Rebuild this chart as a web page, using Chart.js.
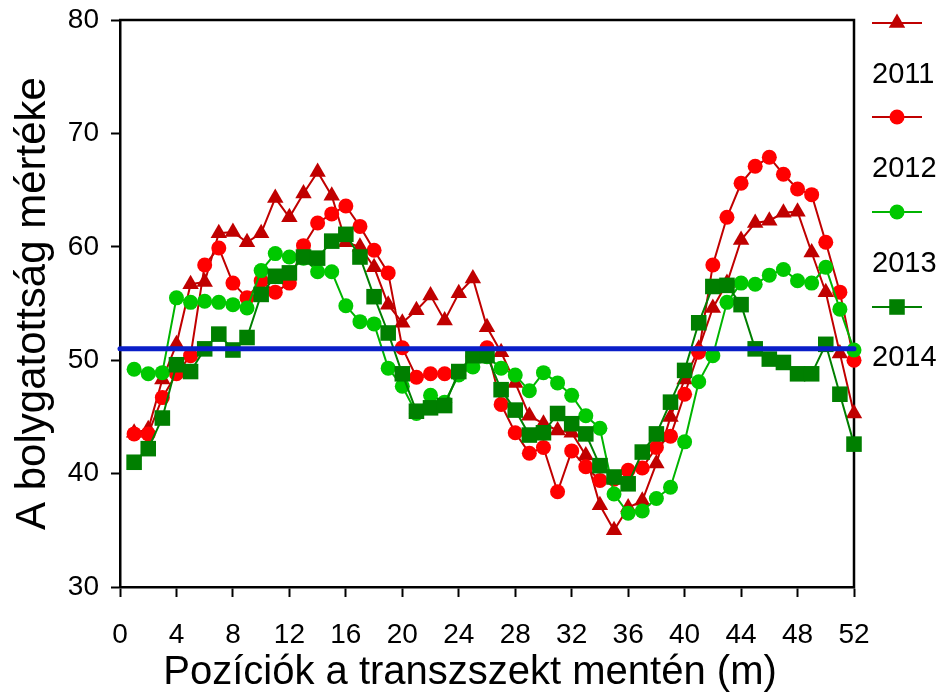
<!DOCTYPE html>
<html><head><meta charset="utf-8">
<script src="https://cdn.jsdelivr.net/npm/chart.js@4.4.1/dist/chart.umd.min.js"></script>
<style>html,body{margin:0;padding:0;background:#fff;} #wrap{width:941px;height:699px;}</style>
</head><body><div id="wrap"><canvas id="c" width="941" height="699"></canvas></div>
<script>
// ---- data ----
const positions = [1,2,3,4,5,6,7,8,9,10,11,12,13,14,15,16,17,18,19,20,21,22,23,24,25,26,
                   27,28,29,30,31,32,33,34,35,36,37,38,39,40,41,42,43,44,45,46,47,48,49,50,51,52];
const years = ['2011','2012','2013','2014'];
const y2011 = [43.6,43.9,48.3,51.4,56.7,56.9,61.2,61.3,60.4,61.2,64.3,62.6,64.7,66.6,64.5,60.4,60.0,58.2,54.9,53.3,
               54.4,55.7,53.5,55.9,57.2,52.9,50.7,48.0,45.1,44.4,43.8,43.6,41.6,37.2,35.0,37.0,37.6,40.9,45.0,48.3,
               51.0,54.6,56.8,60.6,62.1,62.3,63.0,63.1,59.5,56.0,50.6,45.3];
const y2012 = [43.5,43.5,46.7,48.8,50.4,58.4,59.9,56.8,55.5,57.0,56.0,56.8,60.1,62.1,62.9,63.6,61.8,59.7,57.7,51.1,
               48.5,48.8,48.8,49.0,50.3,51.1,46.1,43.6,41.8,42.3,38.4,42.0,40.6,39.4,39.5,40.3,40.5,42.3,43.3,47.0,
               50.7,58.4,62.6,65.6,67.1,67.9,66.4,65.1,64.6,60.4,56.0,50.0];
const y2013 = [49.2,48.8,48.9,55.5,55.1,55.2,55.1,54.9,54.6,57.9,59.4,59.1,59.0,57.8,57.8,54.8,53.4,53.2,49.3,47.7,
               45.3,46.9,46.3,48.7,49.4,50.3,49.3,48.7,47.3,48.9,48.0,46.9,45.1,44.0,38.2,36.5,36.7,37.8,38.8,42.8,
               48.1,50.4,55.1,56.8,56.7,57.5,58.0,57.0,56.8,58.2,54.5,50.9];
const y2014 = [41.0,42.2,44.9,49.6,49.0,51.0,52.3,50.9,52.0,55.8,57.4,57.7,59.1,59.0,60.5,61.1,59.1,55.6,52.4,48.8,
               45.5,45.8,46.0,49.0,50.4,50.4,47.4,45.6,43.4,43.6,45.3,44.4,43.5,40.7,39.7,39.1,41.9,43.5,46.3,49.1,
               53.3,56.5,56.6,54.9,51.0,50.1,49.8,48.8,48.8,51.4,47.0,42.6];
const referenceLevel = 51;
const referenceSpan = [0, 52];
const xTicks = [0,4,8,12,16,20,24,28,32,36,40,44,48,52];
const yTicks = [30,40,50,60,70,80];
const xTitle = 'Pozíciók a transzszekt mentén (m)';
const yTitle = 'A bolygatottság mértéke';

// ---- styles ----
const FONT = "'Liberation Sans', Arial, sans-serif";
const seriesValues = [y2011, y2012, y2013, y2014];
const styles = [
  {line:'#c00000', fill:'#c00000', pt:'triangle', r:9.5},
  {line:'#c00000', fill:'#ff0000', pt:'circle', r:7.5},
  {line:'#00b400', fill:'#00c800', pt:'circle', r:7.5},
  {line:'#007f00', fill:'#007f00', pt:'rect', r:11}
];
const toPts = arr => positions.map((p, i) => ({x: p, y: arr[i]}));

const datasets = seriesValues.map((vals, i) => ({
  label: years[i],
  data: toPts(vals),
  borderColor: styles[i].line,
  backgroundColor: styles[i].fill,
  pointBackgroundColor: styles[i].fill,
  pointBorderColor: styles[i].fill,
  pointBorderWidth: 0,
  pointStyle: styles[i].pt,
  pointRadius: styles[i].r,
  pointHoverRadius: styles[i].r,
  borderWidth: 2,
  tension: 0,
  clip: false,
  order: 4 - i
}));
datasets.push({
  label: 'ref',
  data: referenceSpan.map(x => ({x: x, y: referenceLevel})),
  borderColor: '#0a1ec8',
  borderWidth: 5,
  borderCapStyle: 'round',
  pointRadius: 0,
  clip: false,
  order: 0
});

function drawMarker(ctx, st, x, y) {
  ctx.save();
  ctx.fillStyle = st.fill;
  ctx.beginPath();
  if (st.pt === 'triangle') {
    const r = st.r;
    ctx.moveTo(x, y - r);
    ctx.lineTo(x + r * Math.sin(2*Math.PI/3), y - r * Math.cos(2*Math.PI/3));
    ctx.lineTo(x + r * Math.sin(4*Math.PI/3), y - r * Math.cos(4*Math.PI/3));
    ctx.closePath();
  } else if (st.pt === 'circle') {
    ctx.arc(x, y, st.r, 0, Math.PI*2);
  } else {
    const s = Math.SQRT1_2 * st.r;
    ctx.rect(x - s, y - s, 2*s, 2*s);
  }
  ctx.fill();
  ctx.restore();
}

const framePlugin = {
  id: 'frame',
  beforeDatasetsDraw(chart) {
    const {ctx, chartArea: a} = chart;
    ctx.save();
    ctx.strokeStyle = '#000';
    ctx.lineWidth = 2.5;
    ctx.beginPath();
    ctx.moveTo(a.left - 1, a.top);
    ctx.lineTo(a.right, a.top);
    ctx.lineTo(a.right, a.bottom + 1);
    ctx.stroke();
    ctx.restore();
  },
  afterDraw(chart) {
    const {ctx} = chart;
    ctx.save();
    ctx.fillStyle = '#000';
    ctx.font = '40px ' + FONT;
    ctx.textAlign = 'center';
    ctx.textBaseline = 'middle';
    ctx.fillText(xTitle, 470, 673);
    // legend
    const symY = [23, 117, 212, 307];
    const labY = [75, 169, 264, 358];
    ctx.font = '29px ' + FONT;
    ctx.textAlign = 'left';
    years.forEach((yr, i) => {
      const st = styles[i];
      ctx.strokeStyle = st.line;
      ctx.lineWidth = 2;
      ctx.beginPath();
      ctx.moveTo(872, symY[i]);
      ctx.lineTo(922, symY[i]);
      ctx.stroke();
      drawMarker(ctx, st, 897, symY[i]);
      ctx.fillStyle = '#000';
      ctx.fillText(yr, 872, labY[i]);
    });
    ctx.restore();
  }
};

new Chart(document.getElementById('c'), {
  type: 'line',
  data: {datasets},
  options: {
    responsive: false,
    animation: false,
    events: [],
    layout: {padding: {top: 20, right: 87, left: 0, bottom: 0}},
    plugins: {legend: {display: false}, tooltip: {enabled: false}},
    scales: {
      x: {
        type: 'linear', min: 0, max: 52,
        afterBuildTicks: s => { s.ticks = xTicks.map(v => ({value: v})); },
        afterFit: s => { s.height = 112; s.paddingLeft = 0; s.paddingRight = 0; },
        ticks: {color: '#000', font: {family: FONT, size: 28}, padding: 21, maxRotation: 0, autoSkip: false},
        grid: {drawOnChartArea: false, drawTicks: true, tickLength: 10, tickColor: '#000', tickWidth: 2},
        border: {display: true, color: '#000', width: 2.5},
        title: {display: false}
      },
      y: {
        type: 'linear', min: 30, max: 80,
        afterBuildTicks: s => { s.ticks = yTicks.map(v => ({value: v})); },
        afterFit: s => { s.width = 120; s.paddingTop = 0; s.paddingBottom = 0; },
        ticks: {color: '#000', font: {family: FONT, size: 28}, padding: 12},
        grid: {drawOnChartArea: false, drawTicks: true, tickLength: 9, tickColor: '#000', tickWidth: 2},
        border: {display: true, color: '#000', width: 2.5},
        title: {display: true, text: yTitle, color: '#000', font: {family: FONT, size: 42}, padding: {top: 8, bottom: 0}}
      }
    }
  },
  plugins: [framePlugin]
});
</script>
</body></html>
